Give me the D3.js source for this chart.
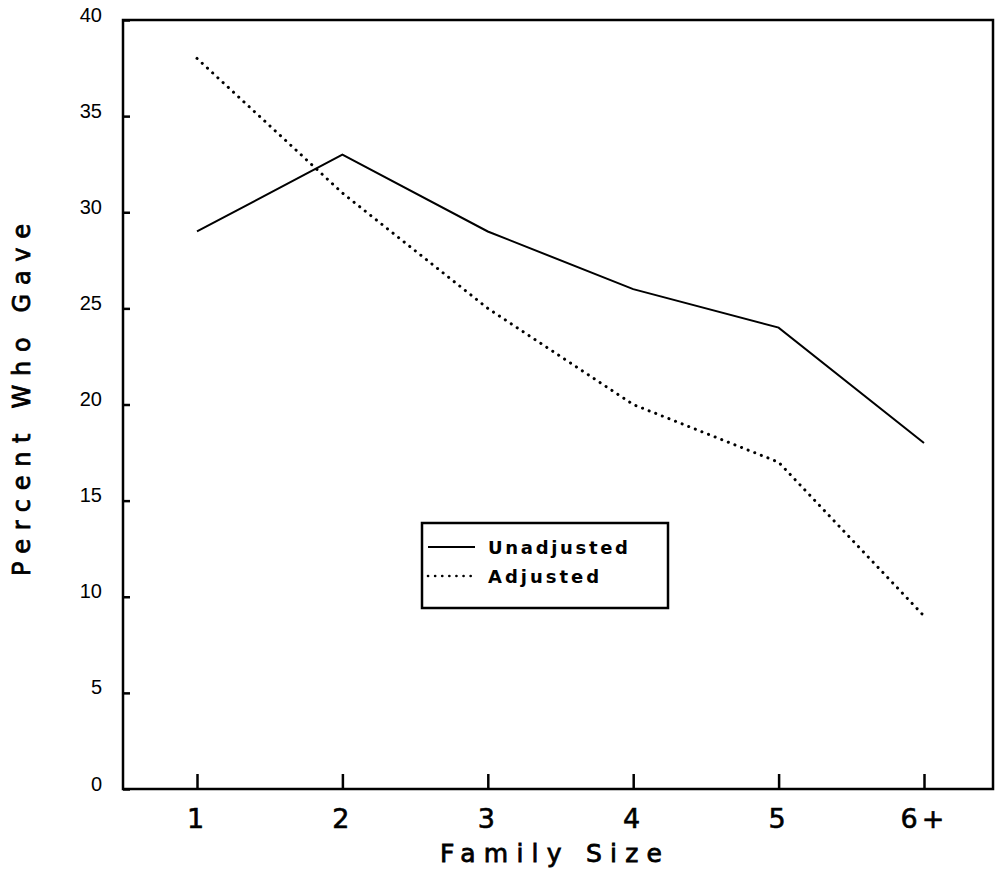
<!DOCTYPE html>
<html>
<head>
<meta charset="utf-8">
<script src="https://cdn.jsdelivr.net/npm/d3@7"></script>
<style>
  html, body { margin: 0; padding: 0; background: #fff; }
  svg { display: block; }
  text { font-family: "DejaVu Sans", sans-serif; fill: #000; }
</style>
</head>
<body>
<svg id="chart" width="996" height="877"></svg>
<script>
// Family size categories and the share of families who gave (%)
const familySizes = ["1", "2", "3", "4", "5", "6+"];
const unadjusted = [29, 33, 29, 26, 24, 18];
const adjusted   = [38, 31, 25, 20, 17, 9];
const yTicks = [0, 5, 10, 15, 20, 25, 30, 35, 40];
const seriesNames = ["Unadjusted", "Adjusted"];

const svg = d3.select("#chart");
const frame = { left: 123, right: 993, top: 20, bottom: 789 };

const x = d3.scalePoint()
  .domain(familySizes)
  .range([197, 924]);

const y = d3.scaleLinear()
  .domain([0, 40])
  .range([frame.bottom, frame.top]);

// Plot frame
svg.append("rect")
  .attr("x", frame.left).attr("y", frame.top)
  .attr("width", frame.right - frame.left)
  .attr("height", frame.bottom - frame.top)
  .attr("fill", "none").attr("stroke", "#000").attr("stroke-width", 2.5);

// Y axis: short inward ticks, labels to the left
const yAxis = d3.axisLeft(y).tickValues(yTicks).tickSize(-7).tickPadding(21)
  .tickFormat(d3.format("d"));
const gy = svg.append("g").attr("transform", `translate(${frame.left},0)`).call(yAxis);
gy.attr("font-size", null).attr("font-family", null);
gy.select(".domain").remove();
gy.selectAll(".tick line").attr("stroke", "#000").attr("stroke-width", 2.5);
gy.selectAll(".tick text")
  .style("font-family", "'Liberation Sans', sans-serif")
  .style("font-size", "20px").attr("dy", "0.05em");

// X axis: upward ticks, labels below
const xAxis = d3.axisBottom(x).tickSize(-15).tickPadding(24);
const gx = svg.append("g").attr("transform", `translate(0,${frame.bottom})`).call(xAxis);
gx.attr("font-size", null).attr("font-family", null);
gx.select(".domain").remove();
gx.selectAll(".tick line").attr("stroke", "#000").attr("stroke-width", 2.5);
gx.selectAll(".tick text").style("font-size", "27px").attr("dy", "0.55em")
  .attr("letter-spacing", "4px")
  .attr("stroke", "#000").attr("stroke-width", 0.6);

const line = d3.line()
  .x((d, i) => x(familySizes[i]))
  .y(d => y(d));

svg.append("path")
  .datum(unadjusted)
  .attr("d", line)
  .attr("fill", "none").attr("stroke", "#000").attr("stroke-width", 2);

svg.append("path")
  .datum(adjusted)
  .attr("d", line)
  .attr("fill", "none").attr("stroke", "#000").attr("stroke-width", 3)
  .attr("stroke-linecap", "round")
  .attr("stroke-dasharray", "0.1 7");

// Axis titles
svg.append("text")
  .attr("x", 440).attr("y", 862)
  .attr("textLength", 222).attr("lengthAdjust", "spacing")
  .attr("stroke", "#000").attr("stroke-width", 0.8)
  .style("font-size", "25px")
  .text("Family Size");

svg.append("text")
  .attr("transform", "translate(30,576) rotate(-90)")
  .attr("textLength", 352).attr("lengthAdjust", "spacing")
  .attr("stroke", "#000").attr("stroke-width", 0.8)
  .style("font-size", "24px")
  .text("Percent Who Gave");

// Legend
const legend = svg.append("g");
legend.append("rect")
  .attr("x", 422).attr("y", 523).attr("width", 246).attr("height", 85)
  .attr("fill", "#fff").attr("stroke", "#000").attr("stroke-width", 2.5);

const legendRows = [
  { name: seriesNames[0], dash: null, y: 547 },
  { name: seriesNames[1], dash: "0.1 7", y: 576 }
];
legendRows.forEach(r => {
  const l = legend.append("line")
    .attr("x1", 428).attr("x2", 475).attr("y1", r.y).attr("y2", r.y)
    .attr("stroke", "#000").attr("stroke-width", 2);
  if (r.dash) l.attr("stroke-dasharray", r.dash).attr("stroke-linecap", "round").attr("stroke-width", 2.6);
  legend.append("text")
    .attr("x", 488).attr("y", r.y + 7)
    .attr("textLength", r.name.length * 14.4 - 4).attr("lengthAdjust", "spacing")
    .style("font-size", "18px").style("font-weight", "bold")
    .text(r.name);
});
</script>
</body>
</html>
